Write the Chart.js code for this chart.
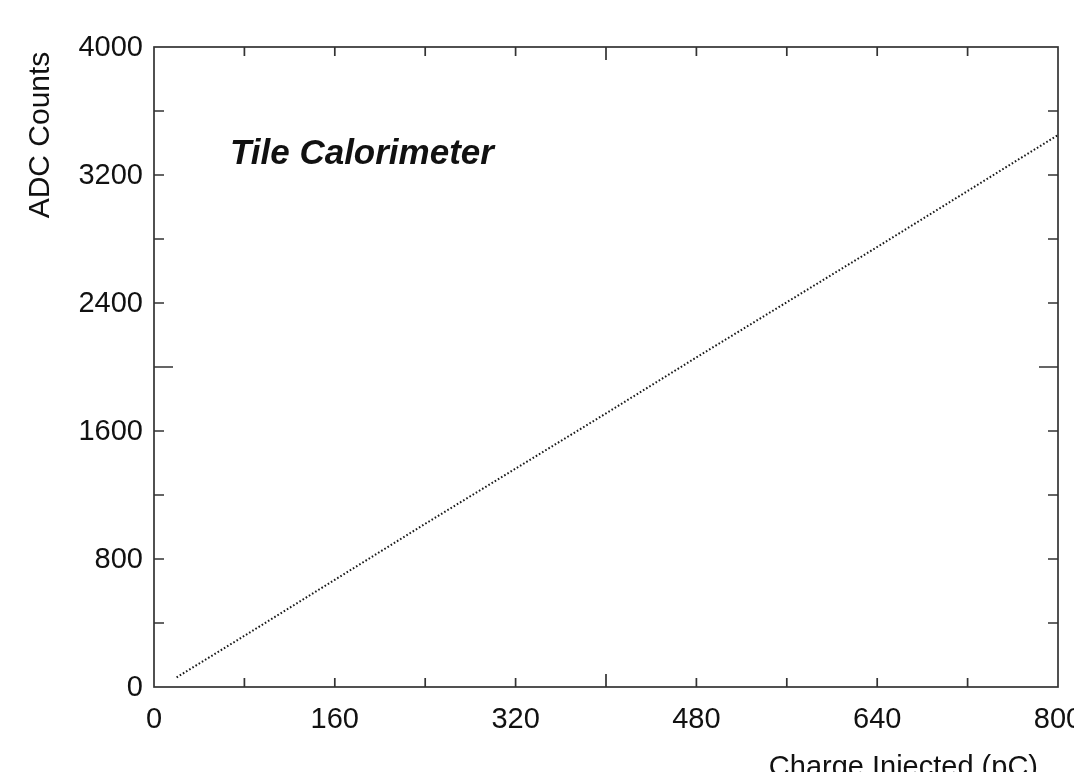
<!DOCTYPE html>
<html>
<head>
<meta charset="utf-8">
<script src="https://cdn.jsdelivr.net/npm/chart.js@4"></script>
<style>
  html, body { margin: 0; padding: 0; background: #fff; }
  #wrap { width: 1074px; height: 772px; }
</style>
</head>
<body>
<div id="wrap"><canvas id="chartCanvas"></canvas></div>
<script>
// calibration: charge injected (pC) vs ADC counts
const charge = [20, 80, 160, 240, 320, 400, 480, 560, 640, 720, 800];
const adcCounts = [60, 320, 670, 1020, 1365, 1710, 2060, 2405, 2750, 3100, 3450];

const xRange = [0, 800];
const yRange = [0, 4000];
const xStep = 80;    // tick every 80
const yStep = 400;   // tick every 400
const xLabelEvery = 160;
const yLabelEvery = 800;
const xMid = 400;
const yMid = 2000;

const FONT = '"Liberation Sans", Arial, Helvetica, sans-serif';
const INK = '#111';

// frame, inward ticks on all four sides, tick labels and titles
const framePlugin = {
    id: 'frame',
    afterDraw(chart) {
        const { ctx, chartArea: a, scales } = chart;
        const xs = scales.x, ys = scales.y;
        ctx.save();
        ctx.strokeStyle = '#333';
        ctx.lineWidth = 1.7;
        ctx.strokeRect(a.left, a.top, a.right - a.left, a.bottom - a.top);

        ctx.beginPath();
        xs.ticks.forEach(t => {
            if (t.value <= xRange[0] || t.value >= xRange[1]) return;
            const px = xs.getPixelForValue(t.value);
            const len = t.value === xMid ? 13 : 9;
            ctx.moveTo(px, a.bottom); ctx.lineTo(px, a.bottom - len);
            ctx.moveTo(px, a.top); ctx.lineTo(px, a.top + len);
        });
        ys.ticks.forEach(t => {
            if (t.value <= yRange[0] || t.value >= yRange[1]) return;
            const py = ys.getPixelForValue(t.value);
            const len = t.value === yMid ? 19 : 10;
            ctx.moveTo(a.left, py); ctx.lineTo(a.left + len, py);
            ctx.moveTo(a.right, py); ctx.lineTo(a.right - len, py);
        });
        ctx.stroke();

        ctx.fillStyle = INK;
        ctx.font = '29px ' + FONT;
        ctx.textBaseline = 'middle';
        ctx.textAlign = 'center';
        xs.ticks.forEach(t => {
            if (t.value % xLabelEvery !== 0) return;
            ctx.fillText(String(t.value), xs.getPixelForValue(t.value), 720);
        });
        ctx.textAlign = 'right';
        ys.ticks.forEach(t => {
            if (t.value % yLabelEvery !== 0) return;
            ctx.fillText(String(t.value), 143, ys.getPixelForValue(t.value) + 1);
        });

        ctx.font = 'italic bold 35px ' + FONT;
        ctx.textAlign = 'left';
        ctx.textBaseline = 'alphabetic';
        ctx.fillText('Tile Calorimeter', 230, 164);

        ctx.font = '29px ' + FONT;
        ctx.textAlign = 'right';
        ctx.fillText('Charge Injected (pC)', 1038, 776);

        ctx.translate(41, 135);
        ctx.rotate(-Math.PI / 2);
        ctx.font = '30px ' + FONT;
        ctx.textAlign = 'center';
        ctx.textBaseline = 'middle';
        ctx.fillText('ADC Counts', 0, 0);
        ctx.restore();
    }
};

const ctx = document.getElementById('chartCanvas').getContext('2d');
new Chart(ctx, {
    type: 'scatter',
    data: {
        datasets: [{
            data: charge.map((c, i) => ({ x: c, y: adcCounts[i] })),
            showLine: true,
            borderColor: '#1a1a1a',
            borderWidth: 2,
            borderDash: [1.6, 2.1],
            pointRadius: 0,
            tension: 0
        }]
    },
    options: {
        responsive: true,
        maintainAspectRatio: false,
        animation: false,
        layout: { padding: { left: 0, right: 16, top: 47, bottom: 0 } },
        plugins: { legend: { display: false }, tooltip: { enabled: false } },
        scales: {
            x: {
                type: 'linear',
                min: xRange[0], max: xRange[1],
                grid: { display: false, drawTicks: false },
                border: { display: false },
                afterFit: s => { s.height = 85; },
                ticks: { display: false, stepSize: xStep, autoSkip: false }
            },
            y: {
                type: 'linear',
                min: yRange[0], max: yRange[1],
                grid: { display: false, drawTicks: false },
                border: { display: false },
                afterFit: s => { s.width = 154; },
                ticks: { display: false, stepSize: yStep, autoSkip: false }
            }
        }
    },
    plugins: [framePlugin]
});
</script>
</body>
</html>
